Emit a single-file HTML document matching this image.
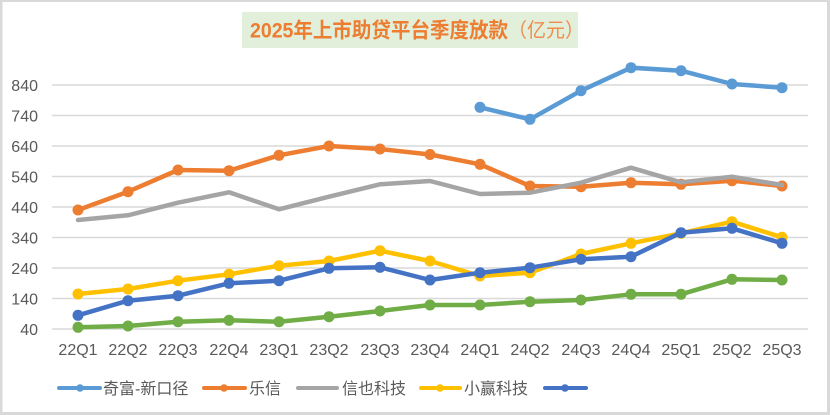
<!DOCTYPE html>
<html>
<head>
<meta charset="utf-8">
<style>
  html,body{margin:0;padding:0;background:#fff;}
  body{width:830px;height:415px;overflow:hidden;}
  svg{display:block;}
  .ax{font-family:"Liberation Sans","Noto Sans CJK SC",sans-serif;font-size:16px;fill:#595959;}
  .lg{font-family:"Liberation Sans","Noto Sans CJK SC",sans-serif;font-size:16px;fill:#595959;}
  .tt{font-family:"Liberation Sans","Noto Sans CJK SC",sans-serif;font-size:21px;}
</style>
</head>
<body>
<svg width="830" height="415" viewBox="0 0 830 415" xmlns="http://www.w3.org/2000/svg">
  <rect x="0" y="0" width="830" height="415" fill="#d9d9d9"/>
  <rect x="2.5" y="2" width="824.5" height="410" fill="#ffffff"/>

  <!-- title -->
  <rect x="242" y="12" width="336" height="36" fill="#e2efda"/>
  <text x="250" y="37.5" class="tt" fill="#ed7d31" font-weight="bold" textLength="258" lengthAdjust="spacingAndGlyphs">2025年上市助贷平台季度放款</text>
  <text x="508" y="37" class="tt" fill="#ef8c4e" style="font-size:20px" textLength="76" lengthAdjust="spacingAndGlyphs">（亿元）</text>

  <!-- gridlines -->
  <g stroke="#d9d9d9" stroke-width="1.4">
    <line x1="52" x2="808" y1="85" y2="85"/>
    <line x1="52" x2="808" y1="115.5" y2="115.5"/>
    <line x1="52" x2="808" y1="146" y2="146"/>
    <line x1="52" x2="808" y1="176.5" y2="176.5"/>
    <line x1="52" x2="808" y1="207" y2="207"/>
    <line x1="52" x2="808" y1="237.5" y2="237.5"/>
    <line x1="52" x2="808" y1="268" y2="268"/>
    <line x1="52" x2="808" y1="298.5" y2="298.5"/>
    <line x1="52" x2="808" y1="329" y2="329"/>
  </g>

  <!-- y labels -->
  <g class="ax" text-anchor="end">
    <text x="38" y="91">840</text>
    <text x="38" y="121.5">740</text>
    <text x="38" y="152">640</text>
    <text x="38" y="182.5">540</text>
    <text x="38" y="213">440</text>
    <text x="38" y="243.5">340</text>
    <text x="38" y="274">240</text>
    <text x="38" y="304.5">140</text>
    <text x="38" y="335">40</text>
  </g>

  <!-- x labels -->
  <g class="ax" text-anchor="middle">
    <text x="78" y="355">22Q1</text>
    <text x="128" y="355">22Q2</text>
    <text x="178" y="355">22Q3</text>
    <text x="229" y="355">22Q4</text>
    <text x="279" y="355">23Q1</text>
    <text x="329" y="355">23Q2</text>
    <text x="380" y="355">23Q3</text>
    <text x="430" y="355">23Q4</text>
    <text x="480" y="355">24Q1</text>
    <text x="530" y="355">24Q2</text>
    <text x="581" y="355">24Q3</text>
    <text x="631" y="355">24Q4</text>
    <text x="681" y="355">25Q1</text>
    <text x="732" y="355">25Q2</text>
    <text x="782" y="355">25Q3</text>
  </g>

  <!-- 奇富 light blue -->
  <g fill="#5b9bd5">
    <polyline fill="none" stroke="#5b9bd5" stroke-width="4.5" stroke-linejoin="round" stroke-linecap="round"
      points="480,107.3 530,119.3 581,90.7 631,67.7 681,70.7 732,84 782,87.7"/>
    <circle cx="480" cy="107.3" r="5.5"/><circle cx="530" cy="119.3" r="5.5"/><circle cx="581" cy="90.7" r="5.5"/>
    <circle cx="631" cy="67.7" r="5.5"/><circle cx="681" cy="70.7" r="5.5"/><circle cx="732" cy="84" r="5.5"/>
    <circle cx="782" cy="87.7" r="5.5"/>
  </g>

  <!-- 乐信 orange -->
  <g fill="#ed7d31">
    <polyline fill="none" stroke="#ed7d31" stroke-width="4.5" stroke-linejoin="round" stroke-linecap="round"
      points="78,210 128,191.7 178,170 229,170.7 279,155.3 329,146 380,149 430,154.5 480,164.3 530,186 581,186.7 631,182.7 681,184.3 732,180.7 782,186"/>
    <circle cx="78" cy="210" r="5.5"/><circle cx="128" cy="191.7" r="5.5"/><circle cx="178" cy="170" r="5.5"/>
    <circle cx="229" cy="170.7" r="5.5"/><circle cx="279" cy="155.3" r="5.5"/><circle cx="329" cy="146" r="5.5"/>
    <circle cx="380" cy="149" r="5.5"/><circle cx="430" cy="154.5" r="5.5"/><circle cx="480" cy="164.3" r="5.5"/>
    <circle cx="530" cy="186" r="5.5"/><circle cx="581" cy="186.7" r="5.5"/><circle cx="631" cy="182.7" r="5.5"/>
    <circle cx="681" cy="184.3" r="5.5"/><circle cx="732" cy="180.7" r="5.5"/><circle cx="782" cy="186" r="5.5"/>
  </g>

  <!-- 信也 gray -->
  <polyline fill="none" stroke="#a5a5a5" stroke-width="4.5" stroke-linejoin="round" stroke-linecap="round"
    points="78,220 128,215.3 178,202.7 229,192.3 279,209.3 329,196.7 380,184.3 430,181 480,194 530,192.7 581,182.7 631,167.7 681,182.3 732,176.7 782,185"/>

  <!-- 小赢 yellow -->
  <g fill="#ffc000">
    <polyline fill="none" stroke="#ffc000" stroke-width="4.5" stroke-linejoin="round" stroke-linecap="round"
      points="78,294 128,289 178,280.7 229,274.3 279,265.7 329,261 380,250.7 430,261 480,276 530,272.7 581,254 631,243.3 681,233.3 732,221.7 782,237.3"/>
    <circle cx="78" cy="294" r="5.5"/><circle cx="128" cy="289" r="5.5"/><circle cx="178" cy="280.7" r="5.5"/>
    <circle cx="229" cy="274.3" r="5.5"/><circle cx="279" cy="265.7" r="5.5"/><circle cx="329" cy="261" r="5.5"/>
    <circle cx="380" cy="250.7" r="5.5"/><circle cx="430" cy="261" r="5.5"/><circle cx="480" cy="276" r="5.5"/>
    <circle cx="530" cy="272.7" r="5.5"/><circle cx="581" cy="254" r="5.5"/><circle cx="631" cy="243.3" r="5.5"/>
    <circle cx="681" cy="233.3" r="5.5"/><circle cx="732" cy="221.7" r="5.5"/><circle cx="782" cy="237.3" r="5.5"/>
  </g>

  <!-- dark blue -->
  <g fill="#4472c4">
    <polyline fill="none" stroke="#4472c4" stroke-width="4.5" stroke-linejoin="round" stroke-linecap="round"
      points="78,315.3 128,300.7 178,295.7 229,283.3 279,280.7 329,268.3 380,267.3 430,280 480,272.7 530,267.7 581,259.3 631,256.7 681,232.7 732,228.3 782,243.3"/>
    <circle cx="78" cy="315.3" r="5.5"/><circle cx="128" cy="300.7" r="5.5"/><circle cx="178" cy="295.7" r="5.5"/>
    <circle cx="229" cy="283.3" r="5.5"/><circle cx="279" cy="280.7" r="5.5"/><circle cx="329" cy="268.3" r="5.5"/>
    <circle cx="380" cy="267.3" r="5.5"/><circle cx="430" cy="280" r="5.5"/><circle cx="480" cy="272.7" r="5.5"/>
    <circle cx="530" cy="267.7" r="5.5"/><circle cx="581" cy="259.3" r="5.5"/><circle cx="631" cy="256.7" r="5.5"/>
    <circle cx="681" cy="232.7" r="5.5"/><circle cx="732" cy="228.3" r="5.5"/><circle cx="782" cy="243.3" r="5.5"/>
  </g>

  <!-- green -->
  <g fill="#70ad47">
    <polyline fill="none" stroke="#70ad47" stroke-width="4.5" stroke-linejoin="round" stroke-linecap="round"
      points="78,327.3 128,326 178,321.7 229,320.3 279,321.7 329,316.7 380,311 430,305 480,305 530,301.7 581,300 631,294.3 681,294.3 732,279.3 782,280"/>
    <circle cx="78" cy="327.3" r="5.5"/><circle cx="128" cy="326" r="5.5"/><circle cx="178" cy="321.7" r="5.5"/>
    <circle cx="229" cy="320.3" r="5.5"/><circle cx="279" cy="321.7" r="5.5"/><circle cx="329" cy="316.7" r="5.5"/>
    <circle cx="380" cy="311" r="5.5"/><circle cx="430" cy="305" r="5.5"/><circle cx="480" cy="305" r="5.5"/>
    <circle cx="530" cy="301.7" r="5.5"/><circle cx="581" cy="300" r="5.5"/><circle cx="631" cy="294.3" r="5.5"/>
    <circle cx="681" cy="294.3" r="5.5"/><circle cx="732" cy="279.3" r="5.5"/><circle cx="782" cy="280" r="5.5"/>
  </g>

  <!-- legend -->
  <g stroke-width="4" stroke-linecap="round">
    <line x1="59" x2="100" y1="388" y2="388" stroke="#5b9bd5"/>
    <line x1="204" x2="245" y1="388" y2="388" stroke="#ed7d31"/>
    <line x1="298" x2="337" y1="388" y2="388" stroke="#a5a5a5"/>
    <line x1="421" x2="460" y1="388" y2="388" stroke="#ffc000"/>
    <line x1="545" x2="586" y1="388" y2="388" stroke="#4472c4"/>
  </g>
  <circle cx="80" cy="388" r="3.8" fill="#5b9bd5"/>
  <circle cx="224" cy="388" r="3.8" fill="#ed7d31"/>
  <circle cx="440" cy="388" r="3.8" fill="#ffc000"/>
  <circle cx="565" cy="388" r="3.8" fill="#4472c4"/>
  <g class="lg">
    <text x="103" y="394">奇富-新口径</text>
    <text x="249" y="394">乐信</text>
    <text x="342" y="394">信也科技</text>
    <text x="464" y="394">小赢科技</text>
  </g>
</svg>
</body>
</html>
